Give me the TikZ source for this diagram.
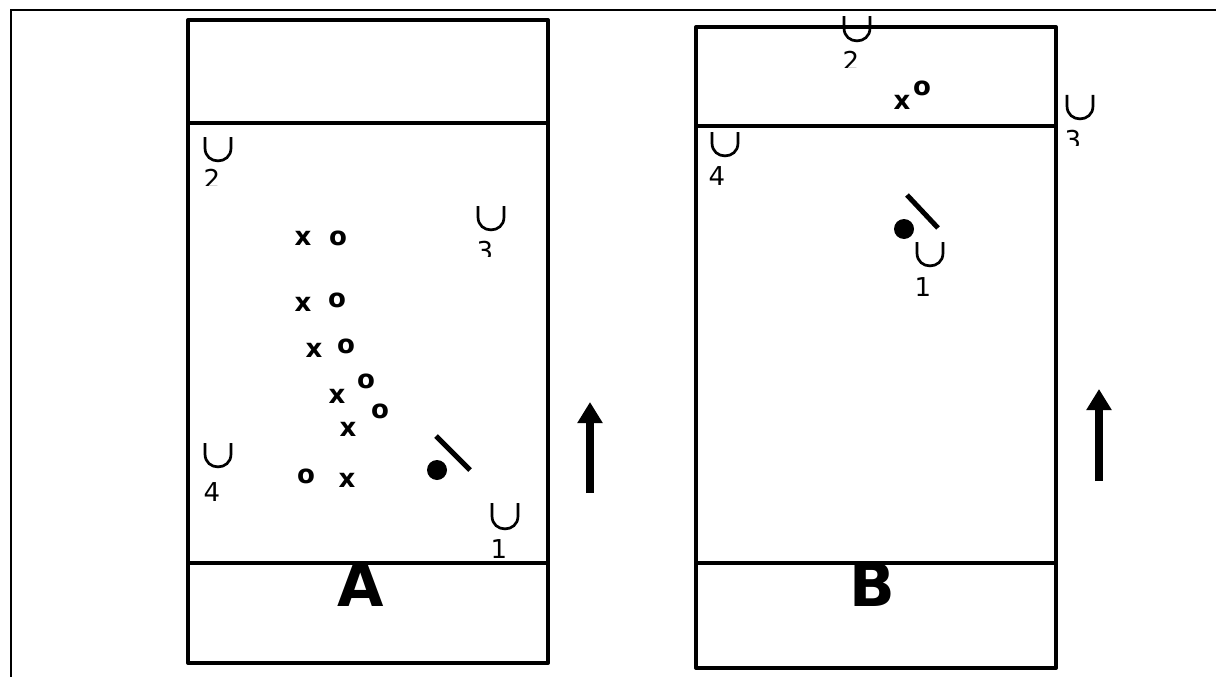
\documentclass[tikz,border=0pt]{standalone}
\usepackage{fontspec}
\setmainfont{DejaVu Sans}
\usetikzlibrary{arrows.meta}
\tikzset{
  court/.style={line width=4pt, line join=round},
  frame/.style={line width=2pt},
  conestyle/.style={line width=2.7pt},
  digit/.style={inner sep=0pt, font=\fontsize{26}{26}\selectfont, anchor=north},
  xo/.style={inner sep=0pt, font=\bfseries\fontsize{26}{26}\selectfont},
  lbl/.style={inner sep=0pt, font=\bfseries\fontsize{60}{60}\selectfont},
  ball/.style={circle, fill=black, inner sep=0pt, minimum size=20pt},
  racket/.style={line width=5pt},
  bigarrow/.style={line width=8pt, -{Triangle[width=24pt,length=21pt]}}
}
\newcommand\drawcone[3]{%
  \draw[conestyle] ({#1-13},#2) -- ({#1-13},{#3-14})
    .. controls ({#1-13},{#3+3.2}) and ({#1+13},{#3+3.2}) ..
    ({#1+13},{#3-14}) -- ({#1+13},#2);}
\begin{document}
\begin{tikzpicture}[x=1pt,y=-1pt]
\useasboundingbox (0,0) rectangle (1216,677);
% outer frame
\draw[frame] (11,677) -- (11,10) -- (1216,10);
% ---------- court A ----------
\draw[court] (188,20) rectangle (548,663);
\draw[court] (188,123) -- (548,123);
\draw[court] (188,563) -- (548,563);
\node[lbl] (labA) at (361,585) {A};
% cones A
\drawcone{218}{137}{162}
\begin{scope}\clip (190,166) rectangle (240,185.3);
\node[digit] (nA2) at (212,169) {2};\end{scope}
\drawcone{491}{206}{231}
\begin{scope}\clip (460,238) rectangle (510,256.5);
\node[digit] (nA3) at (485,241) {3};\end{scope}
\drawcone{218}{443}{468}
\node[digit] (nA4) at (212,482) {4};
\drawcone{505}{503}{530}
\node[digit] (nA1) at (499,539) {1};
% players A
\node[xo] (xA1) at (303,238) {x};
\node[xo] (oA1) at (338,238) {o};
\node[xo] (xA2) at (303,304) {x};
\node[xo] (oA2) at (337,300) {o};
\node[xo] (xA3) at (314,350) {x};
\node[xo] (oA3) at (346,346) {o};
\node[xo] (oA4) at (366,381) {o};
\node[xo] (xA4) at (337,396) {x};
\node[xo] (oA5) at (380,411) {o};
\node[xo] (xA5) at (348,429) {x};
\node[xo] (oA6) at (306,476) {o};
\node[xo] (xA6) at (347,480) {x};
% ball and racket A
\node[ball] (ballA) at (437,470) {};
\coordinate (rA1) at (436,436);
\coordinate (rA2) at (470,470);
\draw[racket] (rA1) -- (rA2);
% arrow A
\coordinate (arA1) at (590,493);
\coordinate (arA2) at (590,402);
\draw[bigarrow] (arA1) -- (arA2);
% ---------- court B ----------
\draw[court] (696,27) rectangle (1056,668);
\draw[court] (696,126) -- (1056,126);
\draw[court] (696,563) -- (1056,563);
\node[lbl] (labB) at (872,585) {B};
% cones B
\begin{scope}\clip (820,17) rectangle (900,60);
\drawcone{857}{10}{42}\end{scope}
\begin{scope}\clip (830,48) rectangle (880,67.3);
\node[digit] (nB2) at (851,51) {2};\end{scope}
\drawcone{1080}{95}{120}
\begin{scope}\clip (1050,128) rectangle (1100,145.5);
\node[digit] (nB3) at (1073,130) {3};\end{scope}
\drawcone{725}{132}{157}
\node[digit] (nB4) at (717,166) {4};
\drawcone{930}{242}{267}
\node[digit] (nB1) at (923,277) {1};
% players B
\node[xo] (xB1) at (902,102) {x};
\node[xo] (oB1) at (922,88) {o};
% ball and racket B
\node[ball] (ballB) at (904,229) {};
\coordinate (rB1) at (907,195);
\coordinate (rB2) at (938,228);
\draw[racket] (rB1) -- (rB2);
% arrow B
\coordinate (arB1) at (1099,481);
\coordinate (arB2) at (1099,389);
\draw[bigarrow] (arB1) -- (arB2);
\end{tikzpicture}
\end{document}
